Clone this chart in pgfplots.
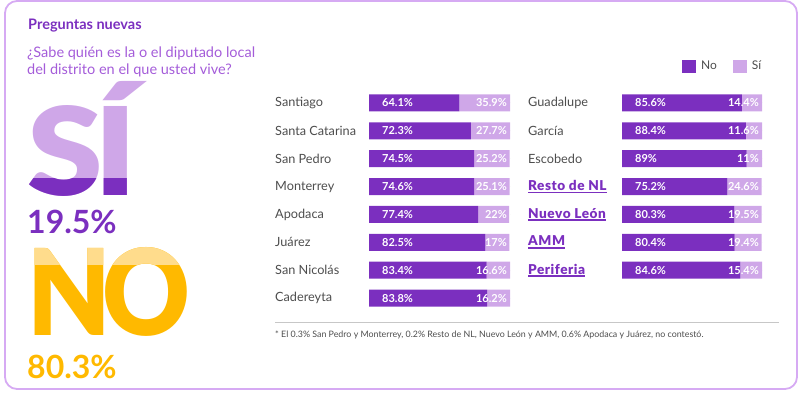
\documentclass[border=0pt]{standalone}
\usepackage{fontspec}
\setmainfont{Lato}
\newfontfamily\bigfont{Lato Black}
\newfontfamily\wideb{Lato Black}[LetterSpace=4]
\usepackage{graphicx}
\usepackage{pgfplots}
\pgfplotsset{compat=1.18}
\definecolor{pdark}{HTML}{7B2FBF}
\definecolor{plight}{HTML}{CFA7E8}
\definecolor{pframe}{HTML}{D6AAF3}
\definecolor{pq}{HTML}{A45CD9}
\definecolor{amber}{HTML}{FFB900}
\definecolor{amberl}{HTML}{FFDC8C}
\definecolor{gtext}{HTML}{4D4D4D}
\newcommand\SIword{\resizebox{110pt}{114pt}{\bigfont S\kern-0.06emÍ}}
\newcommand\NOword{\resizebox{163pt}{88pt}{\bigfont N\kern-0.08emO}}
\newcommand\ulb[1]{\setbox0\hbox{#1}\rlap{\rule[-2.6pt]{\wd0}{1.3pt}}\box0}
\newcommand\hl[1]{\textcolor{pdark}{\wideb\fontsize{13.6}{15}\selectfont\ulb{#1}}}
\newcommand\barfont{\fontsize{11}{13}\selectfont\bfseries}
\pgfplotsset{
  geomL/.style={at={(369pt,-89pt)}, anchor=north west, scale only axis, width=141pt, height=223pt,
    xmin=0, xmax=100, ymin=-0.5, ymax=7.5, y dir=reverse, clip=false},
  geomR/.style={at={(622pt,-89pt)}, anchor=north west, scale only axis, width=140pt, height=223pt,
    xmin=0, xmax=100, ymin=-0.5, ymax=7.5, y dir=reverse, clip=false},
  barax/.style={xbar stacked, bar width=17pt, xtick=\empty, ytick={0,...,7},
    axis line style={draw=none}, major tick length=0pt,
    yticklabel style={anchor=west, inner sep=0pt, xshift=-94pt, font=\fontsize{12.7}{15}\selectfont, text=gtext}},
  nolab/.style={only marks, mark=*, mark size=0pt, mark options={draw=none,fill=none},
    point meta=explicit symbolic, nodes near coords,
    nodes near coords style={anchor=west, xshift=13pt, inner sep=0pt, text=white, font=\barfont}},
  silab/.style={only marks, mark=*, mark size=0pt, mark options={draw=none,fill=none},
    point meta=explicit symbolic, nodes near coords,
    nodes near coords style={anchor=east, xshift=-3pt, inner sep=0pt, text=white, font=\barfont}},
}
\begin{document}
\begin{tikzpicture}[x=1pt,y=-1pt]
\useasboundingbox (0,0) rectangle (800,394);
\draw[pframe, line width=1.8pt, rounded corners=12pt] (5,1) rectangle (797,389);
% titles
\node[anchor=base west, inner sep=0, text=pdark, font=\fontsize{14.5}{17}\selectfont\bfseries] at (28,29) {Preguntas nuevas};
\node[anchor=base west, inner sep=0, text=pq, font=\fontsize{14.5}{17}\selectfont] at (27,57) {¿Sabe quién es la o el diputado local};
\node[anchor=base west, inner sep=0, text=pq, font=\fontsize{14.5}{17}\selectfont] at (27,74) {del distrito en el que usted vive?};
% big SI
\node[anchor=south west, inner sep=0, text=plight] at (27,197) {\SIword};
\begin{scope}
\clip (0,178) rectangle (220,200);
\node[anchor=south west, inner sep=0, text=pdark] at (27,197) {\SIword};
\end{scope}
\node[anchor=base west, inner sep=0, text=pdark, font=\fontsize{32}{36}\selectfont\bfseries] at (27,233) {19.5\%};
% big NO
\node[anchor=south west, inner sep=0, text=amber] at (27,337) {\NOword};
\begin{scope}
\clip (0,240) rectangle (220,264);
\node[anchor=south west, inner sep=0, text=amberl] at (27,337) {\NOword};
\end{scope}
\node[anchor=base west, inner sep=0, text=amber, font=\fontsize{32}{36}\selectfont\bfseries] at (27,378) {80.3\%};
% left chart
\begin{axis}[geomL, barax,
  yticklabels={Santiago, Santa Catarina, San Pedro, Monterrey, Apodaca, Juárez, San Nicolás, Cadereyta}]
\addplot[fill=pdark, draw=none] coordinates {(64.1,0) (72.3,1) (74.5,2) (74.6,3) (77.4,4) (82.5,5) (83.4,6) (83.8,7)};
\addplot[fill=plight, draw=none] coordinates {(35.9,0) (27.7,1) (25.2,2) (25.1,3) (22,4) (17,5) (16.6,6) (16.2,7)};
\end{axis}
\begin{axis}[geomL, hide axis]
\addplot[nolab] coordinates {(0,0) [64.1\%] (0,1) [72.3\%] (0,2) [74.5\%] (0,3) [74.6\%] (0,4) [77.4\%] (0,5) [82.5\%] (0,6) [83.4\%] (0,7) [83.8\%]};
\addplot[silab] coordinates {(100,0) [35.9\%] (100,1) [27.7\%] (100,2) [25.2\%] (100,3) [25.1\%] (100,4) [22\%] (100,5) [17\%] (100,6) [16.6\%] (100,7) [16.2\%]};
\end{axis}
% right chart
\begin{axis}[geomR, barax, ytick={0,...,6},
  yticklabels={Guadalupe, García, Escobedo, \hl{Resto de NL}, \hl{Nuevo León}, \hl{AMM}, \hl{Periferia}},
  legend columns=2,
  legend style={at={(1.01,1.103)}, anchor=east, draw=none, fill=none, inner sep=0pt,
    font=\fontsize{12}{14}\selectfont, text=gtext, /tikz/every even column/.append style={column sep=14pt}},
  legend image code/.code={\fill[#1] (0pt,-6.5pt) rectangle (14pt,6.5pt); \path (17pt,0pt);}]
\addplot[fill=pdark, draw=none] coordinates {(85.6,0) (88.4,1) (89,2) (75.2,3) (80.3,4) (80.4,5) (84.6,6)};
\addplot[fill=plight, draw=none] coordinates {(14.4,0) (11.6,1) (11,2) (24.6,3) (19.5,4) (19.4,5) (15.4,6)};
\legend{No, Sí}
\end{axis}
\begin{axis}[geomR, hide axis]
\addplot[nolab] coordinates {(0,0) [85.6\%] (0,1) [88.4\%] (0,2) [89\%] (0,3) [75.2\%] (0,4) [80.3\%] (0,5) [80.4\%] (0,6) [84.6\%]};
\addplot[silab] coordinates {(100,0) [14.4\%] (100,1) [11.6\%] (100,2) [11\%] (100,3) [24.6\%] (100,4) [19.5\%] (100,5) [19.4\%] (100,6) [15.4\%]};
\end{axis}
% footnote
\draw[black!22, line width=0.8pt] (275,322) -- (779,322);
\node[anchor=base west, inner sep=0, text=gtext, font=\fontsize{8.85}{10}\selectfont] at (275,337) {* El 0.3\% San Pedro y Monterrey, 0.2\% Resto de NL, Nuevo León y AMM, 0.6\% Apodaca y Juárez, no contestó.};
\end{tikzpicture}
\end{document}
